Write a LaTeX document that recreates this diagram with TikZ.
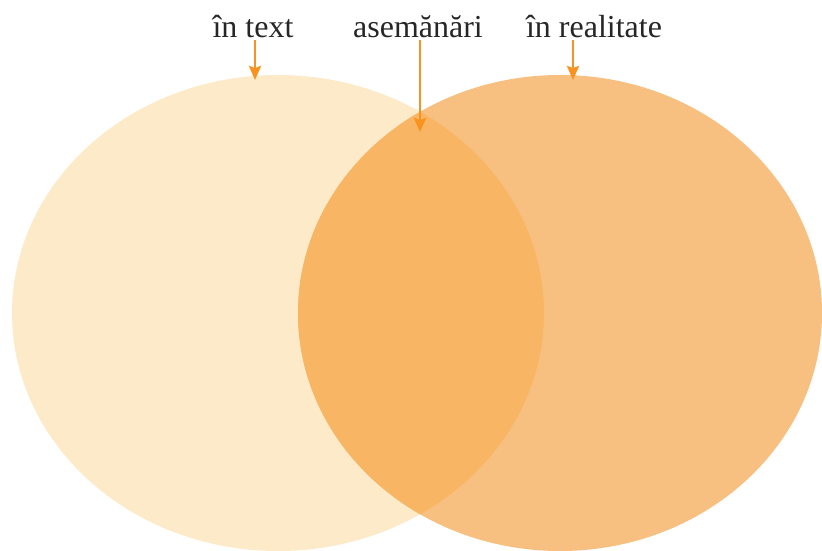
\documentclass[tikz,border=0pt]{standalone}
\usepackage{fontspec}
\setmainfont{Liberation Serif}
\usetikzlibrary{arrows.meta}
\definecolor{textfill}{HTML}{FDEAC8}
\definecolor{realfill}{HTML}{F7C080}
\definecolor{bothfill}{HTML}{F8B664}
\definecolor{arrowc}{HTML}{F7931E}
\tikzset{
  lbl/.style={anchor=base, text=black!85, font=\fontsize{32}{36}\selectfont, inner sep=0pt},
  pointer/.style={draw=arrowc, line width=2.6pt, -{Stealth[length=14pt,width=12pt,inset=2pt]}}
}
\begin{document}
\begin{tikzpicture}[x=1pt,y=-1pt]
\useasboundingbox (0,0) rectangle (822,550);
% the two sets
\fill[textfill] (278,313) ellipse [x radius=266, y radius=238];
\fill[realfill] (560,313) ellipse [x radius=262, y radius=238];
\begin{scope}
\clip (278,313) ellipse [x radius=266, y radius=238];
\fill[bothfill] (560,313) ellipse [x radius=262, y radius=238];
\end{scope}
% labels
\node[lbl] (intext) at (253,37) {în text};
\node[lbl] (asem) at (418,37) {asemănări};
\node[lbl] (inreal) at (594,37) {în realitate};
\coordinate (tintext) at (255,80);
\coordinate (tasem) at (420,132);
\coordinate (tinreal) at (573,80);
\draw[pointer] (255,40) -- (tintext);
\draw[pointer] (420,40) -- (tasem);
\draw[pointer] (573,40) -- (tinreal);
\end{tikzpicture}
\end{document}
